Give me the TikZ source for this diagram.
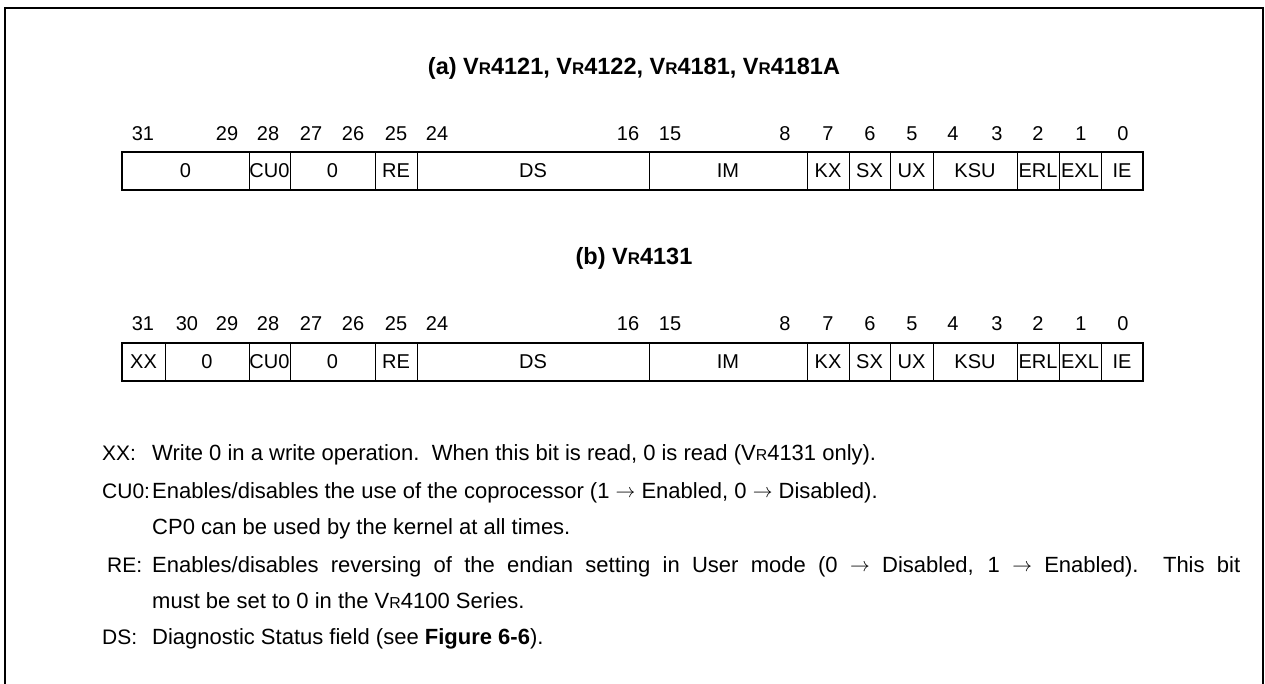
\documentclass[tikz,border=0pt]{standalone}
\usepackage{fontspec}
\setmainfont{Liberation Sans}
\newcommand{\VRm}{V\scalebox{0.72}{R}}
\newcommand{\arr}{\raisebox{0.5pt}{\scalebox{0.95}{$\rightarrow$}}}
\begin{document}
\begin{tikzpicture}[x=1pt,y=-1pt,
  field/.style={draw, line width=0.8pt, inner sep=0pt, outer sep=0pt, minimum height=38pt,
    anchor=north west, font=\fontsize{20}{24}\selectfont},
  bitnum/.style={font=\fontsize{20}{24}\selectfont, inner sep=0pt},
  regbox/.style={draw, line width=2pt},
  title/.style={font=\bfseries\fontsize{23.5}{28}\selectfont, inner sep=0pt},
  desc/.style={font=\fontsize{22}{26}\selectfont, inner sep=0pt, anchor=base west},
  desclabel/.style={font=\fontsize{21}{26}\selectfont, inner sep=0pt, anchor=base west},
  frame/.style={line width=2pt}]
\useasboundingbox (0,0) rectangle (1265,684);
\draw[frame] (5,684) -- (5,8) -- (1263,8) -- (1263,684);

% titles
\node[title] (ta) at (634,68) {(a) \VRm4121, \VRm4122, \VRm4181, \VRm4181A};
\node[title] (tb) at (634,258) {(b) \VRm4131};

% register (a)
\foreach \l/\r/\t/\n in {122/249/0/a1, 249/290/CU0/a2, 290/375/0/a3, 375/417/RE/a4,
  417/649/DS/a5, 649/807/IM/a6, 807/849/KX/a7, 849/890/SX/a8, 890/933/UX/a9,
  933/1017/KSU/a10, 1017/1059/ERL/a11, 1059/1101/EXL/a12, 1101/1143/IE/a13}
  \node[field, minimum width={(\r-\l)*1pt}] (\n) at (\l,152) {\t};
\draw[regbox] (a1.north west) rectangle (a13.south east);

\foreach \x/\b in {143/31, 227/29, 268/28, 311/27, 353/26, 396/25, 437/24, 628/16,
  670/15, 785/8, 828/7, 870/6, 912/5, 953/4, 997/3, 1038/2, 1081/1, 1123/0}
  \node[bitnum] (na\b) at (\x,134) {\b};

% register (b)
\foreach \l/\r/\t/\n in {122/165/XX/b0, 165/249/0/b1, 249/290/CU0/b2, 290/375/0/b3, 375/417/RE/b4,
  417/649/DS/b5, 649/807/IM/b6, 807/849/KX/b7, 849/890/SX/b8, 890/933/UX/b9,
  933/1017/KSU/b10, 1017/1059/ERL/b11, 1059/1101/EXL/b12, 1101/1143/IE/b13}
  \node[field, minimum width={(\r-\l)*1pt}] (\n) at (\l,343) {\t};
\draw[regbox] (b0.north west) rectangle (b13.south east);

\foreach \x/\b in {143/31, 187/30, 227/29, 268/28, 311/27, 353/26, 396/25, 437/24, 628/16,
  670/15, 785/8, 828/7, 870/6, 912/5, 953/4, 997/3, 1038/2, 1081/1, 1123/0}
  \node[bitnum] (nb\b) at (\x,324) {\b};

% descriptions
\node[desclabel] (lxx) at (102,460) {XX:};
\node[desc] (dxx) at (152,460) {Write 0 in a write operation.\ \ When this bit is read, 0 is read (\VRm4131 only).};
\node[desclabel] (lcu) at (102,498) {CU0:};
\node[desc] (dcu) at (152,498) {Enables/disables the use of the coprocessor (1 \arr{} Enabled, 0 \arr{} Disabled).};
\node[desc] (dcu2) at (152,534) {CP0 can be used by the kernel at all times.};
\node[desclabel] (lre) at (107,572) {RE:};
\node[desc] (dre) at (152,572) {\makebox[1088pt][s]{Enables/disables reversing of the endian setting in User mode (0 \arr{} Disabled, 1 \arr{} Enabled).\ \ This bit}};
\node[desc] (dre2) at (152,608) {must be set to 0 in the \VRm4100 Series.};
\node[desclabel] (lds) at (102,644) {DS:};
\node[desc] (dds) at (152,644) {Diagnostic Status field (see \textbf{Figure 6-6}).};
\end{tikzpicture}
\end{document}
